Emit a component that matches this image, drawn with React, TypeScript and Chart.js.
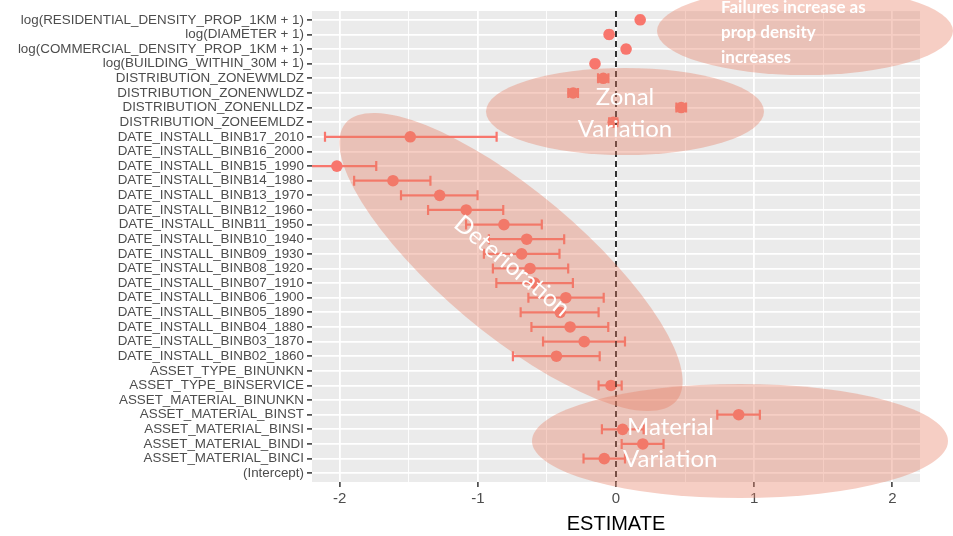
import React, { useEffect, useRef } from "react";
import { Chart, registerables } from "chart.js";

Chart.register(...registerables);

const LABELS: string[] = [
  "log(RESIDENTIAL_DENSITY_PROP_1KM + 1)",
  "log(DIAMETER + 1)",
  "log(COMMERCIAL_DENSITY_PROP_1KM + 1)",
  "log(BUILDING_WITHIN_30M + 1)",
  "DISTRIBUTION_ZONEWMLDZ",
  "DISTRIBUTION_ZONENWLDZ",
  "DISTRIBUTION_ZONENLLDZ",
  "DISTRIBUTION_ZONEEMLDZ",
  "DATE_INSTALL_BINB17_2010",
  "DATE_INSTALL_BINB16_2000",
  "DATE_INSTALL_BINB15_1990",
  "DATE_INSTALL_BINB14_1980",
  "DATE_INSTALL_BINB13_1970",
  "DATE_INSTALL_BINB12_1960",
  "DATE_INSTALL_BINB11_1950",
  "DATE_INSTALL_BINB10_1940",
  "DATE_INSTALL_BINB09_1930",
  "DATE_INSTALL_BINB08_1920",
  "DATE_INSTALL_BINB07_1910",
  "DATE_INSTALL_BINB06_1900",
  "DATE_INSTALL_BINB05_1890",
  "DATE_INSTALL_BINB04_1880",
  "DATE_INSTALL_BINB03_1870",
  "DATE_INSTALL_BINB02_1860",
  "ASSET_TYPE_BINUNKN",
  "ASSET_TYPE_BINSERVICE",
  "ASSET_MATERIAL_BINUNKN",
  "ASSET_MATERIAL_BINST",
  "ASSET_MATERIAL_BINSI",
  "ASSET_MATERIAL_BINDI",
  "ASSET_MATERIAL_BINCI",
  "(Intercept)",
];

const ESTIMATE: (number | null)[] = [
  0.175, -0.05, 0.073, -0.152,
  -0.092, -0.31, 0.472, -0.02,
  -1.489, null, -2.02, -1.614, -1.276, -1.084, -0.811, -0.646,
  -0.683, -0.622, -0.59, -0.363, -0.404, -0.332, -0.23, -0.431,
  null, -0.036, null, 0.888, 0.048, 0.194, -0.085, null,
];

const LOWER: (number | null)[] = [
  0.16, -0.065, 0.058, -0.167,
  -0.13, -0.345, 0.437, -0.05,
  -2.106, null, -2.31, -1.895, -1.556, -1.36, -1.085, -0.92,
  -0.956, -0.891, -0.866, -0.634, -0.69, -0.612, -0.528, -0.746,
  null, -0.126, null, 0.733, -0.102, 0.041, -0.235, null,
];

const UPPER: (number | null)[] = [
  0.19, -0.035, 0.088, -0.137,
  -0.055, -0.275, 0.507, 0.01,
  -0.864, null, -1.735, -1.343, -1.002, -0.816, -0.537, -0.375,
  -0.409, -0.346, -0.312, -0.089, -0.126, -0.056, 0.065, -0.118,
  null, 0.041, null, 1.041, 0.2, 0.344, 0.065, null,
];

const X_MIN = -2.2;
const X_MAX = 2.2;
const X_TITLE = "ESTIMATE";

const POINT_COLOR = "#F8766D";
const PANEL_BG = "#EBEBEB";
const ELLIPSE_FILL = "rgba(232, 125, 100, 0.38)";

// decorative annotation overlays (pixel positions)
const ELLIPSES = [
  { cx: 805, cy: 31, rx: 148, ry: 44, rot: 0 },
  { cx: 625, cy: 111.5, rx: 139, ry: 43.5, rot: 0 },
  { cx: 511, cy: 262, rx: 216, ry: 71, rot: 40 },
  { cx: 740, cy: 441, rx: 208, ry: 57, rot: 0 },
];

const NOTES = [
  { text: "Failures increase as", x: 721, y: 13, align: "left", font: "bold 17px Lato", rot: 0 },
  { text: "prop density", x: 721, y: 38, align: "left", font: "bold 17px Lato", rot: 0 },
  { text: "increases", x: 721, y: 63, align: "left", font: "bold 17px Lato", rot: 0 },
  { text: "Zonal", x: 625, y: 105, align: "center", font: "24px Lato", rot: 0 },
  { text: "Variation", x: 625, y: 137, align: "center", font: "24px Lato", rot: 0 },
  { text: "Material", x: 627, y: 435, align: "left", font: "24px Lato", rot: 0 },
  { text: "Variation", x: 623, y: 467, align: "left", font: "24px Lato", rot: 0 },
  { text: "Deterioration", x: 507, y: 272, align: "center", font: "24px Lato", rot: 40 },
];

const panelPlugin = {
  id: "panelBg",
  beforeDraw(chart: any) {
    const { ctx, chartArea } = chart;
    ctx.save();
    ctx.fillStyle = PANEL_BG;
    ctx.fillRect(chartArea.left, chartArea.top, chartArea.width, chartArea.height);
    ctx.restore();
  },
};

const errorBarPlugin = {
  id: "errorBars",
  beforeDatasetsDraw(chart: any) {
    const { ctx, chartArea } = chart;
    const x = chart.scales.x;
    const y = chart.scales.y;
    ctx.save();
    ctx.beginPath();
    ctx.rect(chartArea.left, chartArea.top, chartArea.width, chartArea.height);
    ctx.clip();
    ctx.strokeStyle = POINT_COLOR;
    ctx.lineWidth = 2.2;
    ESTIMATE.forEach((v, i) => {
      if (v == null || LOWER[i] == null || UPPER[i] == null) return;
      const py = y.getPixelForValue(i);
      const x0 = x.getPixelForValue(LOWER[i]);
      const x1 = x.getPixelForValue(UPPER[i]);
      ctx.beginPath();
      ctx.moveTo(x0, py);
      ctx.lineTo(x1, py);
      ctx.moveTo(x0, py - 5);
      ctx.lineTo(x0, py + 5);
      ctx.moveTo(x1, py - 5);
      ctx.lineTo(x1, py + 5);
      ctx.stroke();
    });
    ctx.restore();
  },
};

const vlinePlugin = {
  id: "zeroLine",
  afterDatasetsDraw(chart: any) {
    const { ctx, chartArea } = chart;
    const px = chart.scales.x.getPixelForValue(0);
    ctx.save();
    ctx.strokeStyle = "#000";
    ctx.lineWidth = 1.6;
    ctx.setLineDash([6, 4]);
    ctx.beginPath();
    ctx.moveTo(px, chartArea.top);
    ctx.lineTo(px, chartArea.bottom);
    ctx.stroke();
    ctx.restore();
  },
};

const annotationPlugin = {
  id: "notes",
  afterDraw(chart: any) {
    const { ctx } = chart;
    ctx.save();
    ELLIPSES.forEach((e) => {
      ctx.fillStyle = ELLIPSE_FILL;
      ctx.beginPath();
      ctx.ellipse(e.cx, e.cy, e.rx, e.ry, (e.rot * Math.PI) / 180, 0, Math.PI * 2);
      ctx.fill();
    });
    ctx.fillStyle = "#FFFFFF";
    ctx.textBaseline = "alphabetic";
    NOTES.forEach((n) => {
      ctx.save();
      ctx.font = n.font;
      ctx.textAlign = n.align as CanvasTextAlign;
      ctx.translate(n.x, n.y);
      ctx.rotate((n.rot * Math.PI) / 180);
      ctx.fillText(n.text, 0, 0);
      ctx.restore();
    });
    ctx.restore();
  },
};

export default function App() {
  const ref = useRef<HTMLCanvasElement | null>(null);

  useEffect(() => {
    if (!ref.current) return;
    const points = ESTIMATE.map((v, i) => (v == null ? null : { x: v, y: i })).filter(
      (p) => p !== null
    ) as { x: number; y: number }[];

    const chart = new Chart(ref.current, {
      type: "scatter",
      data: {
        datasets: [
          {
            data: points,
            backgroundColor: POINT_COLOR,
            borderWidth: 0,
            pointRadius: 5.8,
            pointHoverRadius: 5.8,
          },
        ],
      },
      options: {
        responsive: false,
        animation: false,
        devicePixelRatio: 1,
        layout: { padding: { left: 0, right: 33, top: 11, bottom: 0 } },
        plugins: { legend: { display: false }, tooltip: { enabled: false } },
        scales: {
          x: {
            type: "linear",
            min: X_MIN,
            max: X_MAX,
            afterFit: (s: any) => {
              s.height = 54;
            },
            border: { display: false },
            grid: {
              color: "#FFFFFF",
              lineWidth: (c: any) => (Number.isInteger(c.tick?.value) ? 1.8 : 0.9),
              tickColor: (c: any) => (Number.isInteger(c.tick?.value) ? "#333333" : "rgba(0,0,0,0)"),
              tickLength: 5,
              tickWidth: 1.5,
            },
            ticks: {
              stepSize: 0.5,
              includeBounds: false,
              autoSkip: false,
              maxRotation: 0,
              padding: 3,
              color: "#4D4D4D",
              font: { family: "'Liberation Sans', Arial, sans-serif", size: 15 },
              callback: (v: any) => (Number.isInteger(v) ? String(v) : ""),
            },
            title: {
              display: true,
              text: X_TITLE,
              color: "#000000",
              padding: { top: 0, bottom: 0 },
              font: { family: "'Liberation Sans', Arial, sans-serif", size: 20 },
            },
          },
          y: {
            type: "linear",
            reverse: true,
            min: -0.6,
            max: LABELS.length - 0.4,
            afterFit: (s: any) => {
              s.width = 312;
            },
            border: { display: false },
            grid: {
              color: "#FFFFFF",
              lineWidth: 1.8,
              tickColor: "#333333",
              tickLength: 5,
              tickWidth: 1.5,
            },
            ticks: {
              stepSize: 1,
              includeBounds: false,
              autoSkip: false,
              maxTicksLimit: 100,
              padding: 3,
              color: "#4D4D4D",
              font: { family: "'Liberation Sans', Arial, sans-serif", size: 13.4 },
              callback: (v: any) => (Number.isInteger(v) ? LABELS[v] ?? "" : ""),
            },
          },
        },
      },
      plugins: [panelPlugin, errorBarPlugin, vlinePlugin, annotationPlugin],
    });
    return () => chart.destroy();
  }, []);

  return (
    <div style={{ position: "absolute", left: 0, top: 0, width: 953, height: 536, background: "#fff" }}>
      <canvas ref={ref} width={953} height={536} />
    </div>
  );
}
